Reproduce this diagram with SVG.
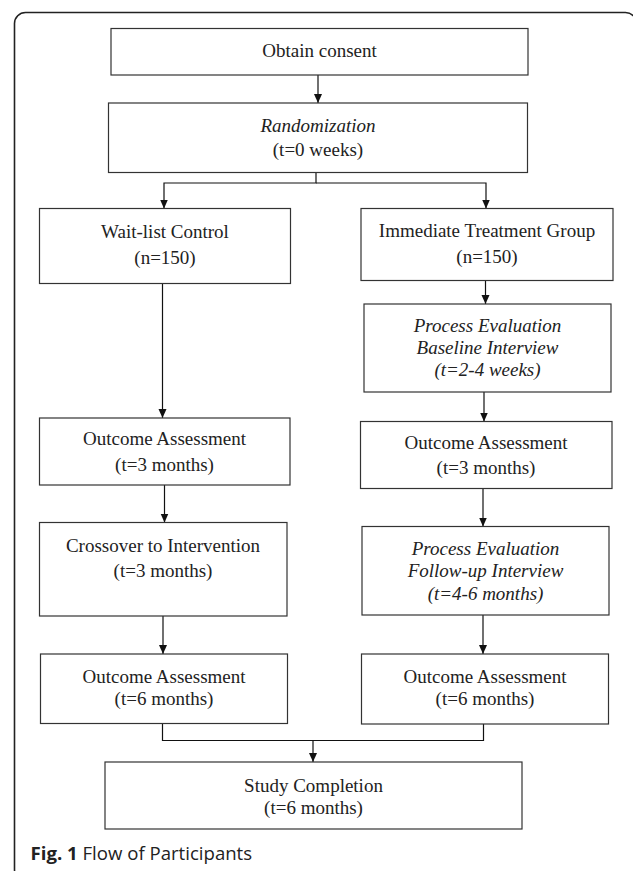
<svg xmlns="http://www.w3.org/2000/svg" width="633" height="871" viewBox="0 0 633 871">
<defs>
<marker id="arr" markerUnits="userSpaceOnUse" markerWidth="10" markerHeight="10" viewBox="0 0 10 10" refX="9" refY="5" orient="auto">
<path d="M0,1 L9,5 L0,9 Z" fill="#111"/>
</marker>
</defs>
<style>
.box{fill:#fff;stroke:#333;stroke-width:1.2}
.t{font-family:"Liberation Serif","Times New Roman",serif;font-size:19px;fill:#222;text-anchor:middle}
.i{font-style:italic}
.c{fill:none;stroke:#111;stroke-width:1.2}
.cap{font-family:"Open Sans","Noto Sans",sans-serif;font-size:18.6px;fill:#222}
</style>
<rect width="633" height="871" fill="#fff"/>
<rect x="14.5" y="12.5" width="622" height="868" rx="11" fill="none" stroke="#222" stroke-width="1.6"/>
<g id="connectors">
<line class="c" x1="318" y1="75" x2="318" y2="103" marker-end="url(#arr)"/>
<polyline class="c" points="316,172.5 316,183 164,183 164,208.5" marker-end="url(#arr)"/>
<polyline class="c" points="316,183 486,183 486,208.5" marker-end="url(#arr)"/>
<line class="c" x1="485.5" y1="280.5" x2="485.5" y2="304" marker-end="url(#arr)"/>
<line class="c" x1="162.5" y1="283.5" x2="162.5" y2="418" marker-end="url(#arr)"/>
<line class="c" x1="484" y1="392" x2="484" y2="421.5" marker-end="url(#arr)"/>
<line class="c" x1="164.5" y1="485" x2="164.5" y2="522.5" marker-end="url(#arr)"/>
<line class="c" x1="483" y1="488.5" x2="483" y2="526.5" marker-end="url(#arr)"/>
<line class="c" x1="163" y1="616" x2="163" y2="654" marker-end="url(#arr)"/>
<line class="c" x1="483" y1="615" x2="483" y2="654" marker-end="url(#arr)"/>
<polyline class="c" points="162.5,723.5 162.5,740.5 483.5,740.5 483.5,724"/>
<line class="c" x1="313" y1="740.5" x2="313" y2="762" marker-end="url(#arr)"/>
</g>
<g id="n1"><rect class="box" x="111" y="28.5" width="417" height="46.5"/><text class="t" x="319.5" y="57">Obtain consent</text></g>
<g id="n2"><rect class="box" x="108.5" y="103" width="419" height="69.5"/><text class="t i" x="318" y="131.5">Randomization</text><text class="t" x="318" y="156">(t=0 weeks)</text></g>
<g id="n3"><rect class="box" x="39.5" y="208.5" width="251" height="75"/><text class="t" x="165" y="238">Wait-list Control</text><text class="t" x="165" y="264">(n=150)</text></g>
<g id="n4"><rect class="box" x="361" y="208.5" width="252" height="72"/><text class="t" x="487" y="236.5">Immediate Treatment Group</text><text class="t" x="487" y="262.5">(n=150)</text></g>
<g id="n5"><rect class="box" x="364" y="304" width="247" height="88"/><text class="t i" x="487.5" y="332">Process Evaluation</text><text class="t i" x="487.5" y="354">Baseline Interview</text><text class="t i" x="487.5" y="375.5">(t=2-4 weeks)</text></g>
<g id="n6"><rect class="box" x="39.5" y="418" width="250.5" height="67"/><text class="t" x="164.5" y="445">Outcome Assessment</text><text class="t" x="164.5" y="470.5">(t=3 months)</text></g>
<g id="n7"><rect class="box" x="360.5" y="421.5" width="251.5" height="67"/><text class="t" x="486" y="449">Outcome Assessment</text><text class="t" x="486" y="473.5">(t=3 months)</text></g>
<g id="n8"><rect class="box" x="39.5" y="522.5" width="247.5" height="93.5"/><text class="t" x="163" y="551.5">Crossover to Intervention</text><text class="t" x="163" y="576.5">(t=3 months)</text></g>
<g id="n9"><rect class="box" x="362" y="526.5" width="247" height="88.5"/><text class="t i" x="485.5" y="555">Process Evaluation</text><text class="t i" x="485.5" y="577">Follow-up Interview</text><text class="t i" x="485.5" y="599.5">(t=4-6 months)</text></g>
<g id="n10"><rect class="box" x="40.5" y="654" width="247" height="69.5"/><text class="t" x="164" y="683">Outcome Assessment</text><text class="t" x="164" y="705">(t=6 months)</text></g>
<g id="n11"><rect class="box" x="361.5" y="654" width="247" height="70"/><text class="t" x="485" y="683">Outcome Assessment</text><text class="t" x="485" y="705">(t=6 months)</text></g>
<g id="n12"><rect class="box" x="105" y="762" width="417" height="67"/><text class="t" x="313.5" y="791.5">Study Completion</text><text class="t" x="313.5" y="813.5">(t=6 months)</text></g>
<text class="cap" x="30.5" y="860"><tspan font-weight="bold">Fig. 1</tspan> Flow of Participants</text>
</svg>
